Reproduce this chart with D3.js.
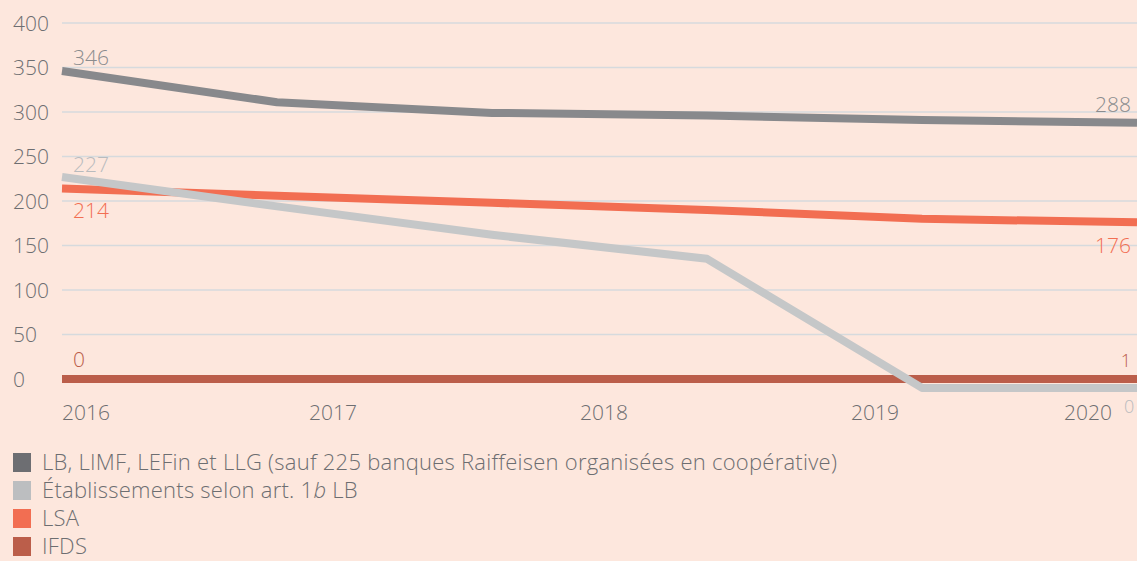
<!DOCTYPE HTML>
<html>
<head>
	<meta charset="utf-8">
	<title>Établissements assujettis 2016-2020</title>
	<script src="https://d3js.org/d3.v7.min.js"></script>
	<style>
		body {
		  margin: 0;
		  background-color: #fde7dd;
		  font-family: 'Open Sans', sans-serif;
		}

		svg {
		  display: block;
		}

		text {
		  fill: #6d6e71;
		  font-weight: 300;
		}

		text.axis {
		  font-size: 21px;
		}

		text.value {
		  font-size: 21px;
		}

		text.legend {
		  font-size: 22px;
		  letter-spacing: 0.25px;
		}

		line.grid {
		  stroke: #d6dadd;
		  stroke-width: 1.5;
		}

		path.serie {
		  fill: none;
		  stroke-width: 8;
		  stroke-linejoin: round;
		}
	</style>
</head>
<body>
	<svg id="chart" width="1137" height="561"></svg>
<script>
	// data
	const years = [2016, 2017, 2018, 2019, 2020];
	const yTicks = [0, 50, 100, 150, 200, 250, 300, 350, 400];
	const series = [
		'LB, LIMF, LEFin et LLG (sauf 225 banques Raiffeisen organisées en coopérative)',
		'Établissements selon art. 1b LB',
		'LSA',
		'IFDS'
	];
	const bankValues = [346, 311, 299, 296, 291, 288];
	const art1bValues = [227, 194, 162, 135, -10, -10];
	const lsaValues = [214, 206, 198, 190, 180, 176];
	const ifdsValues = [0, 0, 0, 0, 0, 0];
	const firstLabels = ['346', '227', '214', '0'];
	const lastLabels = ['288', '0', '176', '1'];

	const lineColors = ['#88898c', '#c5c7c8', '#f26e52', '#bb5e4a'];
	const labelColors = ['#8a8c8e', '#b9bbbd', '#f26e52', '#bb5e4a'];
	const legendColors = ['#6d6e72', '#bcbec0', '#f26e52', '#bb5e4a'];

	const plotLeft = 62, plotRight = 1137, plotTop = 23, plotBottom = 379;

	const svg = d3.select('#chart');

	const yScale = d3.scaleLinear().domain([0, 400]).range([plotBottom, plotTop]);
	const xScale = d3.scalePoint().domain(d3.range(bankValues.length)).range([plotLeft, plotRight]);
	// year labels follow their own spacing
	const yearScale = d3.scaleLinear().domain([2016, 2020]).range([plotLeft, 1146]);

	// grid
	svg.append('g')
	  .selectAll('line')
	  .data(yTicks)
	  .enter()
	  .append('line')
	  .attr('class', 'grid')
	  .attr('x1', plotLeft)
	  .attr('x2', plotRight)
	  .attr('y1', (d) => yScale(d))
	  .attr('y2', (d) => yScale(d));

	svg.append('g')
	  .selectAll('text')
	  .data(yTicks)
	  .enter()
	  .append('text')
	  .attr('class', 'axis')
	  .attr('x', 13)
	  .attr('y', (d) => yScale(d))
	  .attr('dy', '0.36em')
	  .text((d) => d);

	// year labels, kept inside the plot
	const yearG = svg.append('g');
	years.forEach(function (y) {
		const t = yearG.append('text')
		  .attr('class', 'axis')
		  .attr('y', 420)
		  .attr('text-anchor', 'middle')
		  .text(y);
		const w = t.node().getComputedTextLength();
		const cx = Math.max(plotLeft + w / 2, Math.min(1112 - w / 2, yearScale(y)));
		t.attr('x', cx);
	});

	const allValues = [bankValues, art1bValues, lsaValues, ifdsValues];
	const line = d3.line()
	  .x((d, i) => xScale(i))
	  .y((d) => yScale(d));

	// draw IFDS first, then the others on top (light grey over it at the end)
	const order = [3, 0, 2, 1];
	order.forEach(function (k) {
		svg.append('path')
		  .attr('class', 'serie')
		  .attr('d', line(allValues[k]))
		  .attr('stroke', lineColors[k]);
	});

	// start / end value labels
	const firstDy = [-6, -5, 29, -12];
	const lastDy = [-11, 25, 31, -12];
	allValues.forEach(function (vals, k) {
		svg.append('text')
		  .attr('class', 'value')
		  .attr('x', plotLeft + 11)
		  .attr('y', yScale(vals[0]) + firstDy[k])
		  .style('fill', labelColors[k])
		  .text(firstLabels[k]);

		const last = svg.append('text')
		  .attr('class', 'value')
		  .attr('y', yScale(vals[vals.length - 1]) + lastDy[k])
		  .style('fill', labelColors[k])
		  .text(lastLabels[k]);
		if (k === 1) {
			last.attr('x', 1124).style('font-size', '18px');
		} else if (k === 3) {
			last.attr('x', 1131).attr('text-anchor', 'end').style('font-size', '18px');
		} else {
			last.attr('x', 1131).attr('text-anchor', 'end');
		}
	});

	// legend
	const legend = svg.append('g')
	  .selectAll('g')
	  .data(series)
	  .enter()
	  .append('g')
	  .attr('transform', (d, i) => `translate(13, ${453 + i * 28})`);

	legend.append('rect')
	  .attr('width', 18)
	  .attr('height', 19)
	  .attr('fill', (d, i) => legendColors[i]);

	legend.append('text')
	  .attr('class', 'legend')
	  .attr('x', 29)
	  .attr('y', 17)
	  .each(function (d) {
		const t = d3.select(this);
		if (d.indexOf('1b') >= 0) {
			const parts = d.split('1b');
			t.append('tspan').text(parts[0] + '1');
			t.append('tspan').style('font-style', 'italic').text('b');
			t.append('tspan').text(parts[1]);
		} else {
			t.text(d);
		}
	  });
</script>
</body>
</html>
